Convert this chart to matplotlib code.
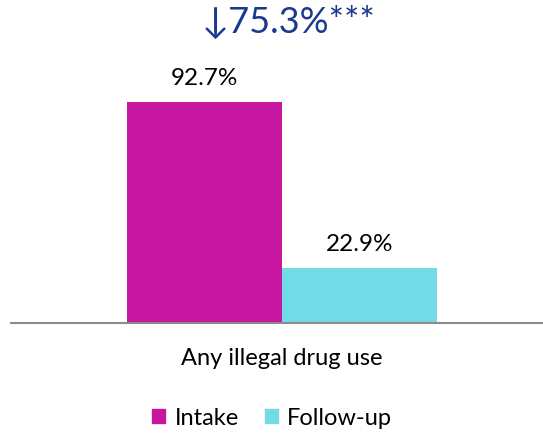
import matplotlib.pyplot as plt
from matplotlib.patches import Patch

plt.rcParams['font.family'] = ['Lato', 'DejaVu Sans']

category = 'Any illegal drug use'
series = ['Intake', 'Follow-up']
values = [92.7, 22.9]
colors = ['#C717A1', '#73DBE6']
change_label = '\u219375.3%***'

fig = plt.figure(figsize=(5.43, 4.35), dpi=100)
W, H = 543, 435
# axes placed in pixel terms: baseline at y=324, 100% spans ~238 px
ax = fig.add_axes([11 / W, (H - 324) / H, 532 / W, 238.4 / H])

xs = [-0.5, 0.5]
bars = ax.bar(xs, values, width=1.0, color=colors)
for x, v in zip(xs, values):
    ax.text(x, v + 6, f'{v}%', ha='center', va='bottom', fontsize=17.5, color='black')

ax.set_xlim(-271 / 155, 261 / 155)
ax.set_ylim(0, 100)
for s in ['top', 'right', 'left']:
    ax.spines[s].set_visible(False)
ax.spines['bottom'].set_color('#8c8c8c')
ax.spines['bottom'].set_linewidth(1.5)
ax.set_yticks([])
ax.set_xticks([0])
ax.set_xticklabels([category], fontsize=17)
ax.tick_params(axis='x', length=0, pad=17)

fig.text(289 / W, 1 - 22 / H, change_label, ha='center', va='center',
         fontsize=26, color='#1B3A8E')

handles = [Patch(color=c, label=s) for c, s in zip(colors, series)]
fig.legend(handles=handles, loc='center', bbox_to_anchor=(272 / W, 1 - 419 / H),
           ncol=2, frameon=False, fontsize=17, handlelength=0.55, handleheight=0.55,
           handletextpad=0.4, columnspacing=1.1)

fig.savefig('out.png', dpi=100)
